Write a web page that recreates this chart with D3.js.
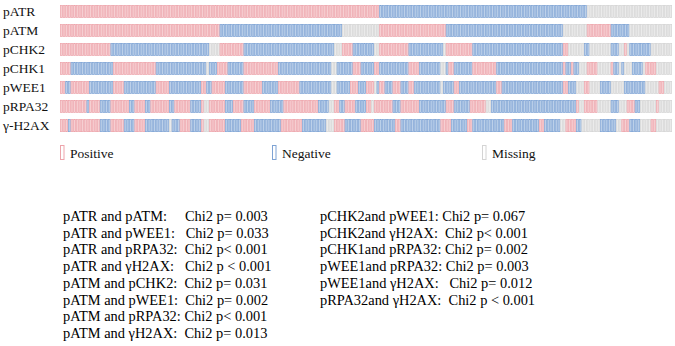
<!DOCTYPE html>
<html>
<head>
<meta charset="utf-8">
<script src="https://cdn.jsdelivr.net/npm/d3@7"></script>
<style>
  body { margin: 0; background: #fff; }
  svg { display: block; font-family: "Liberation Serif", "Times New Roman", serif; }
</style>
</head>
<body>
<svg id="chart" width="675" height="346"></svg>
<script>
(() => {

    // markers (rows) and per-sample status, run-length coded: [status, count]
    // P = positive, N = negative, M = missing
    const markers = ['pATR', 'pATM', 'pCHK2', 'pCHK1', 'pWEE1', 'pRPA32', 'γ-H2AX'];

    const runs_patr = [['P',120],['N',78],['M',32]];
    const runs_patm = [['P',60],['N',46],['M',14],['P',25],['N',44],['M',9],['P',9],['N',7],['M',16]];
    const runs_pchk2 = [['P',19],['N',37],['M',4],['P',9],['N',34],['M',3],['P',4],['N',8],['M',2],['P',11],['N',13],['M',1],
        ['P',10],['N',34],['P',2],['M',6],['N',2],['M',8],['N',3],['M',2],['P',1],['M',1],['N',8],['M',8]];
    const runs_pchk1 = [['P',4],['N',16],['P',16],['N',19],['M',1],['N',3],['P',4],['N',6],['P',13],['N',20],['M',2],['N',6],
        ['P',3],['N',5],['P',2],['N',11],['P',4],['N',8],['M',2],['N',1],['P',2],['N',7],['P',9],['N',25],
        ['P',1],['N',2],['P',1],['N',2],['M',3],['P',4],['M',5],['P',1],['N',2],['M',1],['N',1],['M',3],['N',4],['M',1],['P',4],['M',6]];
    const runs_pwee1 = [['P',2],['N',2],['P',7],['N',9],['P',4],['N',12],['P',5],['N',12],['P',2],['N',2],['P',5],['N',7],
        ['P',7],['N',6],['P',8],['N',12],['M',2],['N',5],['P',3],['N',3],['P',3],['M',1],['N',1],['P',2],['N',3],['P',3],
        ['N',3],['P',2],['N',10],['M',1],['N',4],['P',2],['N',14],['P',2],['N',23],['P',2],['N',3],['M',3],['P',2],['M',4],
        ['N',4],['M',5],['N',8],['M',5],['P',2],['M',3]];
    const runs_prpa32 = [['P',10],['N',1],['P',4],['N',4],['P',7],['N',2],['P',4],['N',2],['P',7],['N',2],['P',6],['N',4],
        ['P',1],['M',2],['P',6],['N',3],['P',4],['N',4],['P',6],['N',5],['P',13],['N',4],['M',2],['P',2],['N',2],['P',4],
        ['N',4],['P',2],['M',1],['P',7],['N',3],['P',7],['N',10],['P',3],['N',6],['P',6],['M',2],['N',32],['P',1],['M',2],
        ['P',5],['M',5],['N',3],['M',3],['P',3],['N',2],['M',6],['P',1],['M',5]];
    const runs_h2ax = [['P',3],['N',1],['P',11],['N',4],['P',5],['N',4],['P',4],['N',9],['M',1],['N',3],['P',4],['N',4],
        ['P',1],['M',2],['P',6],['N',6],['P',5],['N',10],['P',8],['N',9],['M',3],['P',4],['N',6],['P',5],['N',8],['P',2],
        ['N',15],['P',4],['N',6],['P',2],['N',12],['P',3],['N',10],['P',2],['N',6],['M',2],['P',4],['N',2],['M',7],['N',6],
        ['M',2],['P',3],['N',4],['M',4],['P',2],['M',6]];

    const row_runs = [runs_patr, runs_patm, runs_pchk2, runs_pchk1, runs_pwee1, runs_prpa32, runs_h2ax];

    const statuses = ['P', 'N', 'M'];
    const legend_labels = ['Positive', 'Negative', 'Missing'];

    const stats_left = [
        'pATR and pATM:     Chi2 p= 0.003',
        'pATR and pWEE1:   Chi2 p= 0.033',
        'pATR and pRPA32:  Chi2 p< 0.001',
        'pATR and γH2AX:   Chi2 p < 0.001',
        'pATM and pCHK2:  Chi2 p= 0.031',
        'pATM and pWEE1:  Chi2 p= 0.002',
        'pATM and pRPA32: Chi2 p< 0.001',
        'pATM and γH2AX:  Chi2 p= 0.013'
    ];
    const stats_right = [
        'pCHK2and pWEE1: Chi2 p= 0.067',
        'pCHK2and γH2AX:  Chi2 p< 0.001',
        'pCHK1and pRPA32: Chi2 p= 0.002',
        'pWEE1and pRPA32: Chi2 p= 0.003',
        'pWEE1and γH2AX:   Chi2 p= 0.012',
        'pRPA32and γH2AX:  Chi2 p < 0.001'
    ];

    // layout
    const grid_left = 60;
    const grid_right = 672;
    const grid_top = 5;
    const grid_bottom = 132;

    const fill_colors = d3.scaleOrdinal().domain(statuses).range(['#f6cfd2', '#bcd0e9', '#ebebeb']);
    const stroke_colors = d3.scaleOrdinal().domain(statuses).range(['#eda4ab', '#7ea3d4', '#d4d4d4']);

    // expand the runs into one cell per sample
    let cells = [];
    row_runs.forEach((runs, r) => {
        let col = 0;
        for (const [status, count] of runs) {
            for (let k = 0; k < count; k++) {
                cells.push({ marker: markers[r], col: col, status: status });
                col++;
            }
        }
    });

    const n_samples = d3.max(cells, (d) => d.col) + 1;

    let svg = d3.select('#chart');

    let x_scale = d3.scaleBand()
        .domain(d3.range(n_samples))
        .range([grid_left, grid_right])
        .padding(0);

    let y_scale = d3.scaleBand()
        .domain(markers)
        .range([grid_top, grid_bottom])
        .paddingInner(0.316)
        .paddingOuter(0);

    // cells
    svg.append('g')
        .selectAll('rect')
        .data(cells)
        .enter()
        .append('rect')
        .attr('x', (d) => x_scale(d.col) + 0.35)
        .attr('y', (d) => y_scale(d.marker) + 0.35)
        .attr('width', x_scale.bandwidth() - 0.7)
        .attr('height', y_scale.bandwidth() - 0.7)
        .attr('fill', (d) => fill_colors(d.status))
        .attr('stroke', (d) => stroke_colors(d.status))
        .attr('stroke-width', 0.7);

    // row labels
    svg.append('g')
        .selectAll('text')
        .data(markers)
        .enter()
        .append('text')
        .attr('x', 3)
        .attr('y', (d) => y_scale(d) + y_scale.bandwidth() / 2)
        .attr('dy', '0.35em')
        .style('font-size', '13.5px')
        .style('fill', '#111')
        .text((d) => d);

    // legend
    const legend_x = d3.scaleOrdinal().domain(statuses).range([60, 272, 482]);
    let legend = svg.append('g')
        .selectAll('g')
        .data(statuses)
        .enter()
        .append('g')
        .attr('transform', (d) => `translate(${legend_x(d)}, 145)`);

    legend.append('rect')
        .attr('x', 0.5)
        .attr('y', 0.5)
        .attr('width', 3.5)
        .attr('height', 14)
        .attr('fill', 'white')
        .attr('stroke', (d) => stroke_colors(d))
        .attr('stroke-width', 1);

    legend.append('text')
        .attr('x', 10)
        .attr('y', 8)
        .attr('dy', '0.35em')
        .style('font-size', '13.5px')
        .style('fill', '#111')
        .text((d, i) => legend_labels[i]);

    // chi2 statistics
    const line_y = d3.scaleLinear().domain([0, 1]).range([216, 232.7]);

    svg.append('g')
        .selectAll('text')
        .data(stats_left)
        .enter()
        .append('text')
        .attr('x', 63)
        .attr('y', (d, i) => line_y(i))
        .attr('dy', '0.35em')
        .style('font-size', '14.4px')
        .style('white-space', 'pre')
        .style('fill', '#000')
        .text((d) => d);

    svg.append('g')
        .selectAll('text')
        .data(stats_right)
        .enter()
        .append('text')
        .attr('x', 320)
        .attr('y', (d, i) => line_y(i))
        .attr('dy', '0.35em')
        .style('font-size', '14.4px')
        .style('white-space', 'pre')
        .style('fill', '#000')
        .text((d) => d);

})();
</script>
</body>
</html>
